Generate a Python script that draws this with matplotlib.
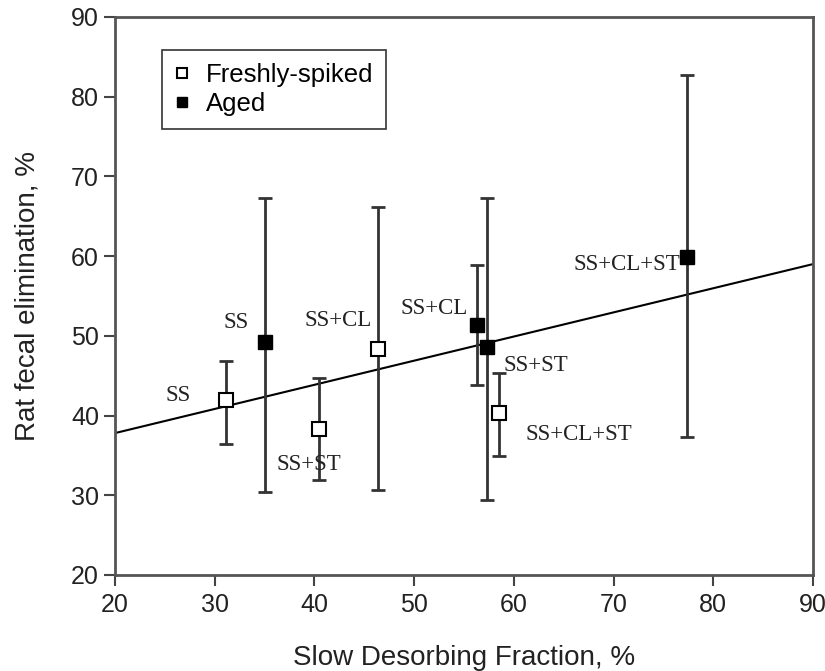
import matplotlib.pyplot as plt
import numpy as np

# Freshly-spiked (open squares)
fresh_x = [31.1, 40.5, 46.4, 58.5]
fresh_y = [42.0, 38.3, 48.4, 40.3]
fresh_lo = [36.4, 31.9, 30.7, 34.9]
fresh_hi = [46.9, 44.7, 66.2, 45.4]
fresh_labels = ["SS", "SS+ST", "SS+CL", "SS+CL+ST"]

# Aged (filled squares)
aged_x = [35.05, 56.3, 57.35, 77.4]
aged_y = [49.2, 51.4, 48.6, 59.9]
aged_lo = [30.4, 43.8, 29.4, 37.3]
aged_hi = [67.25, 58.9, 67.25, 82.7]
aged_labels = ["SS", "SS+CL", "SS+ST", "SS+CL+ST"]

# regression line end points
fit_x = [20, 90]
fit_y = [37.8, 59.0]

# label positions (data coords)
fresh_lab_pos = [(26.3, 42.5), (39.4, 33.8), (42.4, 51.9), (66.5, 37.6)]
aged_lab_pos = [(32.1, 51.7), (52.0, 53.4), (62.2, 46.3), (71.3, 58.9)]

plt.rcParams['font.family'] = ['Liberation Sans', 'DejaVu Sans']

fig = plt.figure(figsize=(8.25, 6.71), dpi=100)
ax = fig.add_axes([0.1394, 0.1431, 0.8461, 0.8316])

ax.plot(fit_x, fit_y, color='black', lw=1.5, zorder=2)

def yerr(y, lo, hi):
    y = np.array(y); lo = np.array(lo); hi = np.array(hi)
    return np.vstack([y - lo, hi - y])

ax.errorbar(fresh_x, fresh_y, yerr=yerr(fresh_y, fresh_lo, fresh_hi), fmt='none',
            ecolor='#333333', elinewidth=2, capsize=5, capthick=2, zorder=3)
ax.errorbar(aged_x, aged_y, yerr=yerr(aged_y, aged_lo, aged_hi), fmt='none',
            ecolor='#333333', elinewidth=2, capsize=5, capthick=2, zorder=3)

ax.plot(fresh_x, fresh_y, 's', ms=10, mfc='white', mec='black', mew=1.5,
        ls='none', zorder=4, label='Freshly-spiked')
ax.plot(aged_x, aged_y, 's', ms=10, mfc='black', mec='black',
        ls='none', zorder=4, label='Aged')

serif = ['Liberation Serif', 'DejaVu Serif']
for lab, (tx, ty) in zip(fresh_labels, fresh_lab_pos):
    ax.text(tx, ty, lab, family=serif, fontsize=16.5,
            ha='center', va='center', color='#222222', zorder=5)
for lab, (tx, ty) in zip(aged_labels, aged_lab_pos):
    ax.text(tx, ty, lab, family=serif, fontsize=16.5,
            ha='center', va='center', color='#222222', zorder=5)

ax.set_xlim(20, 90)
ax.set_ylim(20, 90)
ax.set_xticks(np.arange(20, 91, 10))
ax.set_yticks(np.arange(20, 91, 10))
ax.tick_params(axis='both', direction='out', length=8, width=1.5,
               labelsize=18, color='#444444', labelcolor='#222222')
ax.tick_params(axis='x', pad=5)
for s in ax.spines.values():
    s.set_linewidth(2)
    s.set_color('#555555')

ax.set_xlabel('Slow Desorbing Fraction, %', fontsize=20, color='#222222', labelpad=20)
ax.set_ylabel('Rat fecal elimination, %', fontsize=20, color='#222222', labelpad=22)

leg = ax.legend(loc='upper left', bbox_to_anchor=(0.067, 0.941), borderaxespad=0,
                fontsize=18.5, markerscale=0.75, handlelength=0.6, handletextpad=0.6,
                fancybox=False, framealpha=1, edgecolor='#333333',
                borderpad=0.5, labelspacing=0.2)
leg.get_frame().set_linewidth(1.2)

plt.savefig('out.png', dpi=100)
